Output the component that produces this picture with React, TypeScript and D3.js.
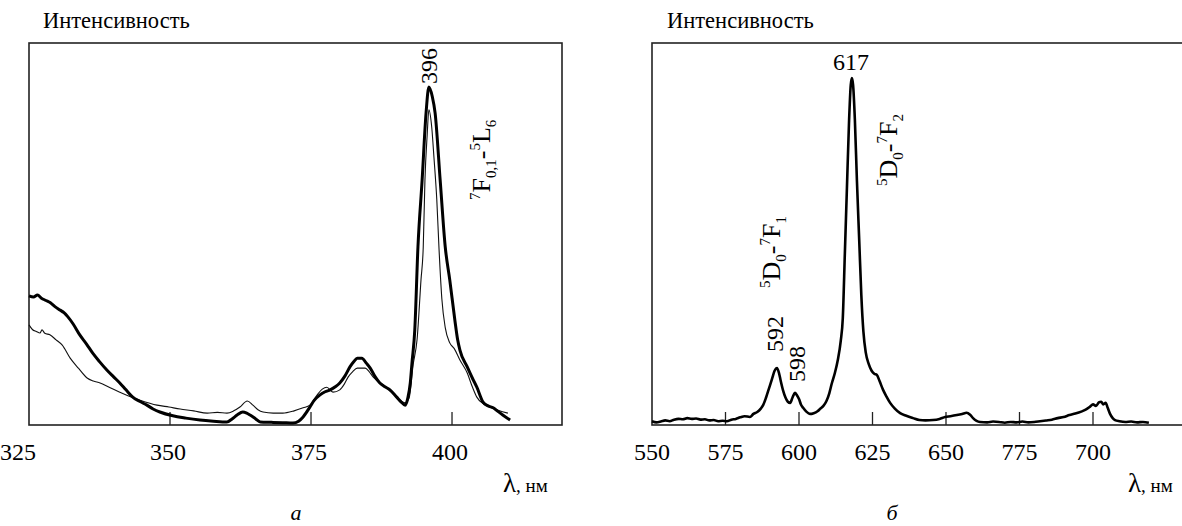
import React from 'react'
import * as d3 from 'd3'

// left panel (excitation), wavelengths in nm and relative intensity
const leftThickWl = [325, 325.8, 326.5, 327.2, 328.0, 328.8, 329.6, 330.5, 331.2, 331.9, 332.8, 334.0, 335.2, 336.3, 337.5, 338.8, 340.0, 341.1, 342.2, 343.4, 344.6, 345.9, 347.0, 348.2, 350.5, 352.8, 355.3, 357.7, 360.1, 361.0, 361.9, 362.9, 363.6, 364.2, 365.2, 366.0, 368.0, 370.0, 371.8, 372.8, 373.6, 374.8, 375.6, 376.6, 377.5, 378.4, 379.3, 380.1, 381.0, 381.9, 382.6, 383.2, 384.0, 384.8, 385.5, 386.3, 387.2, 388.1, 389.0, 390.2, 391.0, 391.7, 392.2, 392.6, 392.9, 393.4, 393.96, 394.7, 395.4, 395.9, 396.5, 397.0, 397.9, 398.8, 399.6, 400.5, 401.0, 401.4, 402.7, 403.6, 404.4, 405.5, 406.4, 407.3, 408.2, 409.0, 410.3]
const leftThickI = [33.8, 33.5, 34.0, 33.2, 32.6, 32.0, 31.0, 30.1, 29.4, 28.3, 26.5, 23.6, 21.2, 18.8, 16.6, 14.4, 12.6, 11.0, 9.2, 7.3, 6.2, 5.2, 4.2, 3.4, 2.4, 1.8, 1.3, 1.0, 0.8, 1.6, 2.6, 3.4, 3.1, 2.6, 1.6, 0.8, 0.7, 0.6, 0.5, 1.0, 2.1, 4.7, 6.5, 7.9, 8.7, 9.2, 10.0, 11.0, 12.8, 15.2, 16.6, 17.5, 17.5, 16.2, 14.9, 12.8, 11.0, 10.0, 9.2, 7.3, 6.0, 5.2, 7.3, 11.0, 16.2, 24.9, 46.6, 64.1, 81.7, 88.5, 86.0, 81.7, 64.1, 46.6, 38.0, 27.5, 22.3, 19.6, 15.2, 12.3, 9.9, 6.0, 5.0, 4.5, 3.5, 2.6, 1.3]

const leftThinWl = [325, 325.6, 326.3, 326.95, 327.3, 327.8, 328.7, 329.8, 330.9, 332.3, 333.8, 335.3, 336.4, 337.6, 339.3, 341.1, 343.0, 344.7, 347.7, 349.8, 351.8, 354.2, 356.6, 358.4, 360.1, 361.3, 362.4, 363.7, 364.7, 365.6, 366.5, 368.3, 370.0, 372.0, 373.6, 374.8, 376.1, 377.0, 377.8, 378.9, 380.1, 380.9, 381.6, 382.4, 383.2, 384.6, 385.3, 386.0, 387.8, 389.0, 390.2, 391.0, 391.7, 392.4, 393.1, 393.8, 394.5, 394.9, 395.2, 395.6, 395.9, 396.4, 396.8, 397.3, 397.7, 398.2, 398.8, 399.6, 400.4, 401.4, 402.7, 403.6, 404.4, 405.5, 406.7, 408.3, 409.9]
const leftThinI = [26.2, 25.0, 24.5, 24.1, 24.9, 24.0, 23.6, 22.3, 20.9, 17.5, 14.8, 12.3, 11.5, 11.0, 9.8, 8.6, 7.4, 6.5, 5.2, 4.7, 4.2, 3.7, 3.1, 3.3, 3.1, 3.7, 4.7, 6.3, 5.2, 4.0, 3.4, 3.1, 3.1, 3.7, 4.5, 5.2, 7.9, 9.4, 9.9, 8.6, 9.2, 10.7, 12.6, 14.0, 14.9, 14.9, 14.0, 12.6, 10.5, 8.9, 7.3, 6.3, 5.8, 7.1, 15.7, 22.3, 38.0, 46.6, 64.1, 76.0, 82.5, 78.0, 70.0, 59.0, 46.0, 33.0, 25.5, 21.5, 20.0, 17.0, 13.6, 10.0, 7.3, 5.6, 4.7, 3.8, 3.1]

// right panel (emission)
const rightWl = [550, 551.5, 553, 554.5, 556, 557.5, 559, 560.5, 562, 563.5, 565, 566.5, 568, 569.5, 571, 572.5, 574, 575.5, 577, 578.5, 580, 581.5, 583.3, 584.5, 585.8, 587, 587.8, 588.8, 589.8, 590.8, 591.7, 592.5, 593.2, 593.8, 594.6, 595.4, 596.2, 597, 597.8, 598.6, 599.3, 600, 600.7, 601.4, 602.5, 603.7, 605, 606.3, 607.3, 608.3, 609.3, 610.3, 611.2, 612.2, 613.2, 614.2, 614.9, 615.6, 616.3, 617.0, 617.6, 618.0, 618.4, 619.0, 619.7, 620.5, 621.2, 621.9, 622.7, 623.7, 624.7, 625.6, 626.5, 627.4, 628.6, 629.8, 631.0, 632.6, 634.4, 636.5, 638.8, 641, 643, 645.6, 647.8, 649.7, 651.5, 653.7, 655.5, 657, 658.2, 659.2, 660.4, 661.6, 664, 666, 668, 670, 672, 674, 676, 678, 680, 682, 684, 686, 688, 690, 692, 694, 696, 697.5, 699, 700, 701, 702, 702.8, 703.5, 704.3, 705, 705.8, 706.7, 707.5, 709, 711, 713, 715, 717, 719]
const rightI = [1.0, 0.7, 0.9, 1.2, 1.0, 1.4, 1.6, 1.5, 1.8, 1.6, 1.7, 1.4, 1.5, 1.2, 1.3, 1.0, 1.1, 1.0, 1.4, 1.6, 2.0, 2.3, 2.1, 2.9, 3.4, 4.3, 5.2, 7.2, 9.6, 12.0, 14.2, 14.9, 13.6, 11.5, 9.0, 7.2, 6.1, 5.8, 7.2, 8.4, 7.8, 6.8, 5.3, 4.5, 3.5, 2.9, 3.1, 3.6, 4.3, 5.0, 6.2, 8.3, 11.0, 13.6, 17.0, 22.0, 28.0, 45.0, 62.0, 79.0, 89.0, 90.8, 89.0, 80.0, 64.0, 48.0, 34.0, 24.5, 19.0, 16.0, 14.2, 13.4, 13.1, 11.5, 9.2, 7.4, 5.8, 4.3, 3.1, 2.4, 1.8, 1.3, 1.2, 1.3, 1.6, 2.1, 2.3, 2.6, 2.9, 3.2, 2.7, 1.8, 1.1, 0.8, 0.7, 0.9, 0.8, 0.6, 0.8, 0.7, 0.9, 0.7, 0.8, 1.0, 1.2, 1.4, 1.8, 2.1, 2.6, 3.0, 3.5, 4.0, 4.8, 5.4, 5.0, 5.9, 6.1, 5.4, 5.8, 4.5, 2.9, 1.8, 1.3, 1.0, 0.8, 0.9, 0.7, 0.8, 0.6]

const leftTicks = [325, 350, 375, 400]
const rightTicks = [550, 575, 600, 625, 650, 675, 700]
const rightTickLabels = ['550', '575', '600', '625', '650', '775', '700']

const font = 'Liberation Serif, Times New Roman, serif'

function App() {
  const width = 1182
  const height = 526
  const top = 43
  const bottom = 425
  const tickLen = 13

  const xLeft = d3.scaleLinear().domain([325, 419.5]).range([29, 562])
  const xRight = d3.scaleLinear().domain([550, 730]).range([652, 1181.2])
  const y = d3.scaleLinear().domain([0, 100]).range([bottom, top])

  const pairs = (xs: number[], ys: number[]) => xs.map((x, i) => [x, ys[i]] as [number, number])

  const lineL = d3.line<[number, number]>()
    .x(d => xLeft(d[0]))
    .y(d => y(d[1]))
    .curve(d3.curveMonotoneX)
  const lineR = d3.line<[number, number]>()
    .x(d => xRight(d[0]))
    .y(d => y(d[1]))
    .curve(d3.curveMonotoneX)

  const sub = { fontSize: 15 }

  return (
    <svg width={width} height={height} style={{ position: 'absolute', left: 0, top: 0, background: '#fff', fontFamily: font }}>
      <rect x={0} y={0} width={width} height={height} fill="#fff" />

      {/* panel a */}
      <text x={43} y={28} fontSize={22.5}>Интенсивность</text>
      <rect x={29} y={top} width={562 - 29} height={bottom - top} fill="none" stroke="#222" strokeWidth={1.6} />
      {leftTicks.slice(1).map(t => (
        <path key={t} d={`M ${xLeft(t)} ${bottom} V ${bottom - tickLen}`} stroke="#222" strokeWidth={1.3} />
      ))}
      {leftTicks.map((t, i) => (
        <text key={t} x={xLeft(t) - (i === 0 ? 11 : 2)} y={460} textAnchor="middle" fontSize={24}>{t}</text>
      ))}
      <path d={lineL(pairs(leftThinWl, leftThinI)) || ''} fill="none" stroke="#111" strokeWidth={1.1} />
      <path d={lineL(pairs(leftThickWl, leftThickI)) || ''} fill="none" stroke="#000" strokeWidth={3} />
      <text transform={`translate(437 84) rotate(-90)`} fontSize={24}>396</text>
      <text transform={`translate(490 200) rotate(-90)`} fontSize={26}>
        <tspan dy={-10} style={sub}>7</tspan>
        <tspan dy={10}>F</tspan>
        <tspan dy={6} style={sub}>0,1</tspan>
        <tspan dy={-6}>-</tspan>
        <tspan dy={-10} style={sub}>5</tspan>
        <tspan dy={10}>L</tspan>
        <tspan dy={6} style={sub}>6</tspan>
      </text>
      <text x={503} y={492}>
        <tspan fontSize={27}>λ</tspan>
        <tspan fontSize={19}>, нм</tspan>
      </text>
      <text x={296} y={520} textAnchor="middle" fontSize={22} fontStyle="italic">а</text>

      {/* panel b */}
      <text x={667} y={28} fontSize={22.5}>Интенсивность</text>
      <rect x={652} y={top} width={560} height={bottom - top} fill="none" stroke="#222" strokeWidth={1.6} />
      {rightTicks.slice(1).map(t => (
        <path key={t} d={`M ${xRight(t)} ${bottom} V ${bottom - tickLen}`} stroke="#222" strokeWidth={1.3} />
      ))}
      {rightTicks.map((t, i) => (
        <text key={t} x={xRight(t)} y={460} textAnchor="middle" fontSize={24}>{rightTickLabels[i]}</text>
      ))}
      <path d={lineR(pairs(rightWl, rightI)) || ''} fill="none" stroke="#000" strokeWidth={2.6} />
      <text x={851} y={70} textAnchor="middle" fontSize={24}>617</text>
      <text transform={`translate(783 352) rotate(-90)`} fontSize={24}>592</text>
      <text transform={`translate(805 382) rotate(-90)`} fontSize={24}>598</text>
      <text transform={`translate(780 288) rotate(-90)`} fontSize={26}>
        <tspan dy={-10} style={sub}>5</tspan>
        <tspan dy={10}>D</tspan>
        <tspan dy={6} style={sub}>0</tspan>
        <tspan dy={-6}>-</tspan>
        <tspan dy={-10} style={sub}>7</tspan>
        <tspan dy={10}>F</tspan>
        <tspan dy={6} style={sub}>1</tspan>
      </text>
      <text transform={`translate(897 186) rotate(-90)`} fontSize={26}>
        <tspan dy={-10} style={sub}>5</tspan>
        <tspan dy={10}>D</tspan>
        <tspan dy={6} style={sub}>0</tspan>
        <tspan dy={-6}>-</tspan>
        <tspan dy={-10} style={sub}>7</tspan>
        <tspan dy={10}>F</tspan>
        <tspan dy={6} style={sub}>2</tspan>
      </text>
      <text x={1128} y={492}>
        <tspan fontSize={27}>λ</tspan>
        <tspan fontSize={19}>, нм</tspan>
      </text>
      <text x={892} y={520} textAnchor="middle" fontSize={22} fontStyle="italic">б</text>
    </svg>
  )
}

export default App
